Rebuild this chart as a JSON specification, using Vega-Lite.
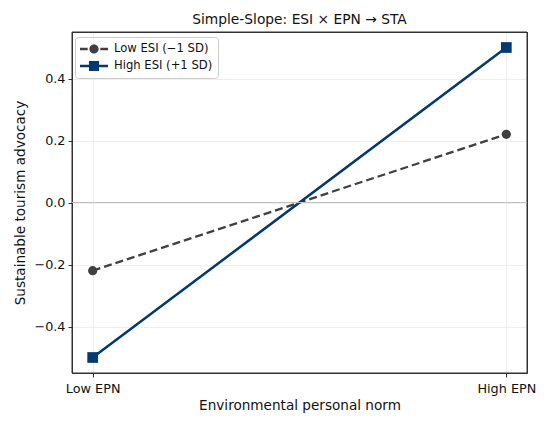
{
  "$schema": "https://vega.github.io/schema/vega-lite/v6.json",
  "width": 455,
  "height": 341,
  "autosize": {"type": "none"},
  "padding": {"left": 72, "top": 32, "right": 23, "bottom": 54},
  "background": "white",
  "config": {
    "font": "DejaVu Sans",
    "view": {"stroke": "#333333"},
    "axis": {
      "domain": true,
      "domainColor": "#333333",
      "domainWidth": 1,
      "tickColor": "#333333",
      "tickSize": 4,
      "labelColor": "#111111",
      "titleColor": "#111111",
      "titleFontWeight": "normal",
      "gridColor": "#ebebeb",
      "gridWidth": 0.8
    }
  },
  "title": {
    "text": "Simple-Slope: ESI × EPN → STA",
    "fontSize": 13.8,
    "fontWeight": "normal",
    "color": "#111111",
    "offset": 5
  },
  "datasets": {
    "lines": [
      {"epn": 0, "series": "Low ESI (−1 SD)", "sta": -0.22},
      {"epn": 1, "series": "Low ESI (−1 SD)", "sta": 0.22},
      {"epn": 0, "series": "High ESI (+1 SD)", "sta": -0.5},
      {"epn": 1, "series": "High ESI (+1 SD)", "sta": 0.5}
    ],
    "zero": [{"y": 0}],
    "frame": [{"name": "frame"}]
  },
  "resolve": {"axis": {"x": "independent", "y": "independent"}},
  "layer": [
    {
      "data": {"name": "lines"},
      "transform": [{"filter": "datum.series === 'Low ESI (−1 SD)'"}],
      "mark": {"type": "line", "strokeWidth": 2.3, "color": "#404040", "strokeDash": [8, 4]},
      "encoding": {
        "x": {
          "field": "epn",
          "type": "quantitative",
          "scale": {"domain": [-0.05, 1.05], "nice": false, "zero": false},
          "axis": {
            "orient": "bottom",
            "values": [0, 1],
            "labelExpr": "datum.value === 0 ? 'Low EPN' : 'High EPN'",
            "title": "Environmental personal norm",
            "labelFontSize": 12.8,
            "titleFontSize": 13.6,
            "labelPadding": 5,
            "titlePadding": 4,
            "grid": true
          }
        },
        "y": {
          "field": "sta",
          "type": "quantitative",
          "scale": {"domain": [-0.55, 0.55], "nice": false},
          "axis": {
            "orient": "left",
            "values": [-0.4, -0.2, 0, 0.2, 0.4],
            "format": ".1f",
            "title": "Sustainable tourism advocacy",
            "labelFontSize": 12.8,
            "titleFontSize": 13.6,
            "labelPadding": 3,
            "titlePadding": 6,
            "grid": true
          }
        }
      }
    },
    {
      "data": {"name": "lines"},
      "transform": [{"filter": "datum.series === 'High ESI (+1 SD)'"}],
      "mark": {"type": "line", "strokeWidth": 2.5, "color": "#003a70"},
      "encoding": {
        "x": {
          "field": "epn",
          "type": "quantitative",
          "axis": {"orient": "top", "labels": false, "ticks": false, "title": null, "grid": false, "domain": true}
        },
        "y": {
          "field": "sta",
          "type": "quantitative",
          "axis": {"orient": "right", "labels": false, "ticks": false, "title": null, "grid": false, "domain": true}
        }
      }
    },
    {
      "data": {"name": "frame"},
      "mark": {"type": "rect", "fill": null, "fillOpacity": 0, "stroke": "#333333", "strokeWidth": 1},
      "encoding": {}
    },
    {
      "data": {"name": "zero"},
      "mark": {"type": "rule", "color": "#c0c0c0", "strokeWidth": 1},
      "encoding": {"y": {"field": "y", "type": "quantitative", "axis": null}}
    },
    {
      "data": {"name": "lines"},
      "transform": [{"filter": "datum.series === 'Low ESI (−1 SD)'"}],
      "mark": {"type": "point", "shape": "circle", "filled": true, "opacity": 1, "strokeWidth": 0, "size": 85, "color": "#404040"},
      "encoding": {
        "x": {"field": "epn", "type": "quantitative", "axis": null},
        "y": {"field": "sta", "type": "quantitative", "axis": null}
      }
    },
    {
      "data": {"name": "lines"},
      "transform": [{"filter": "datum.series === 'High ESI (+1 SD)'"}],
      "mark": {"type": "point", "shape": "square", "filled": true, "opacity": 1, "strokeWidth": 0, "size": 115, "color": "#003a70"},
      "encoding": {
        "x": {"field": "epn", "type": "quantitative", "axis": null},
        "y": {"field": "sta", "type": "quantitative", "axis": null}
      }
    },
    {
      "data": {"name": "lines"},
      "mark": {"type": "point", "filled": true, "size": 0, "strokeWidth": 0, "opacity": 1, "fillOpacity": 1},
      "encoding": {
        "x": {"field": "epn", "type": "quantitative", "axis": null},
        "y": {"field": "sta", "type": "quantitative", "axis": null},
        "color": {
          "field": "series",
          "type": "nominal",
          "scale": {"domain": ["Low ESI (−1 SD)", "High ESI (+1 SD)"], "range": ["#404040", "#003a70"]},
          "legend": {
            "title": null,
            "orient": "none",
            "legendX": 3,
            "legendY": 5,
            "padding": 5,
            "strokeColor": "#cccccc",
            "fillColor": "rgba(255,255,255,0.85)",
            "cornerRadius": 3,
            "labelFontSize": 11.6,
            "labelColor": "#111111",
            "symbolSize": 784,
            "symbolOpacity": 1,
            "symbolStrokeWidth": 0,
            "clipHeight": 14,
            "rowPadding": 3,
            "labelOffset": 6,
            "encode": {
              "symbols": {
                "update": {
                  "opacity": {"value": 1},
                  "fillOpacity": {"value": 1}
                }
              }
            }
          }
        },
        "shape": {
          "field": "series",
          "type": "nominal",
          "scale": {
            "domain": ["Low ESI (−1 SD)", "High ESI (+1 SD)"],
            "range": [
              "M-1,-0.09H-0.45V0.09H-1Z M0.45,-0.09H1V0.09H0.45Z M-0.33,0A0.33,0.33 0 1,1 0.33,0A0.33,0.33 0 1,1 -0.33,0Z",
              "M-1,-0.09H1V0.09H-1Z M-0.36,-0.36H0.36V0.36H-0.36Z"
            ]
          }
        }
      }
    }
  ]
}
